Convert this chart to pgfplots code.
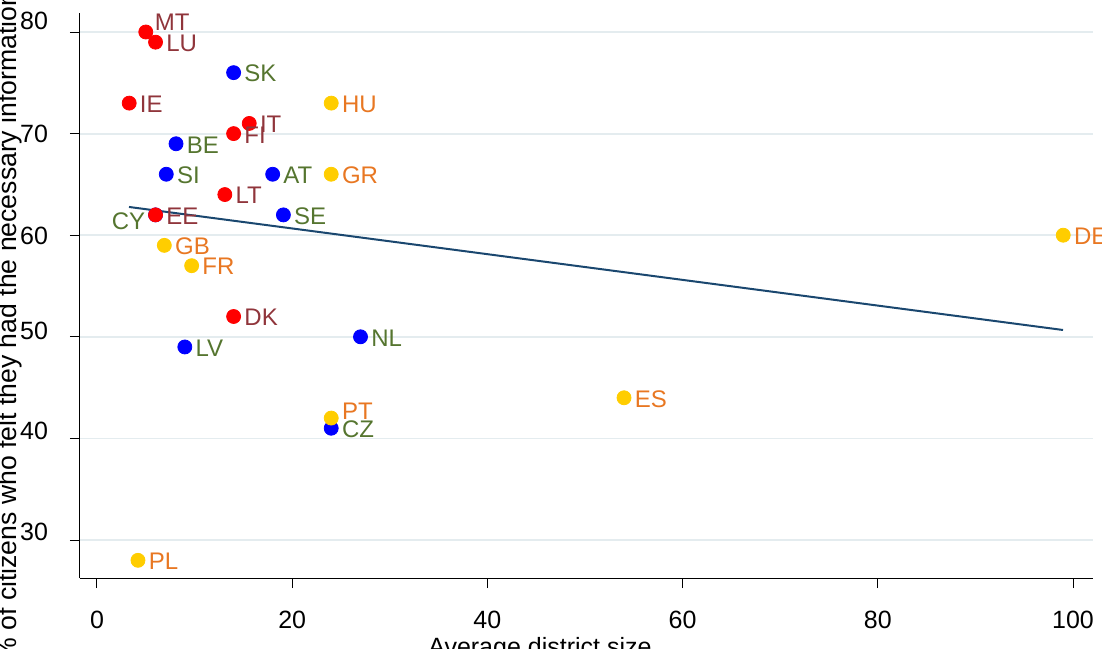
\documentclass[border=0pt]{standalone}
\usepackage{fontspec}
\setmainfont{Liberation Sans}
\usepackage{pgfplots}
\pgfplotsset{compat=1.18}
\usepackage{pgfplotstable}
\definecolor{maroonS}{RGB}{144,53,59}
\definecolor{forestS}{RGB}{85,117,47}
\definecolor{dkorangeS}{RGB}{232,119,34}
\definecolor{navyS}{RGB}{26,71,111}
\definecolor{gridS}{RGB}{228,236,239}
\definecolor{goldS}{RGB}{255,205,0}

\pgfplotstableread{
x y lab dx dy
5.0 80 MT 4.3 5.0
6.0 79 LU 5.2 -0.5
3.3 73 IE 5.2 -0.5
15.6 71 IT 5.2 -0.5
14.0 70 FI 5.2 -1.0
13.1 64 LT 5.2 -0.5
6.0 62 EE 5.2 -0.5
14.0 52 DK 5.2 -0.5
}\redtab

\pgfplotstableread{
x y lab dx dy
14.0 76 SK 5.2 -0.5
8.1 69 BE 5.2 -0.5
7.1 66 SI 5.2 -0.5
18.0 66 AT 5.2 -0.5
19.1 62 SE 5.2 -0.5
9.0 49 LV 5.2 -0.5
27.0 50 NL 5.2 -0.5
24.0 41 CZ 5.2 -0.5
}\bluetab

\pgfplotstableread{
x y lab dx dy
6.0 62 CY -5.0 -3.0
}\cytab

\pgfplotstableread{
x y lab dx dy
24.0 73 HU 5.2 -0.5
24.0 66 GR 5.2 -0.5
6.9 59 GB 5.2 -0.5
9.7 57 FR 5.2 -0.5
99.0 60 DE 5.2 -0.5
54.0 44 ES 5.2 -0.5
24.0 42 PT 5.2 3.5
4.2 28 PL 5.2 -0.5
}\yellowtab

\pgfplotsset{
  lblplot/.style={
    only marks, mark=*, mark size=3.5pt,
    mark options={draw=#1, fill=#1},
    nodes near coords,
    point meta=explicit symbolic,
    visualization depends on={\thisrow{dx}\as\mydx},
    visualization depends on={\thisrow{dy}\as\mydy},
  }
}

\begin{document}
\begin{tikzpicture}
\useasboundingbox (-40pt,-35pt) rectangle (511pt,289pt);
\clip (-40pt,-35pt) rectangle (511pt,289pt);
\begin{axis}[
  at={(0,0)}, anchor=south west,
  scale only axis, width=506.5pt, height=282.5pt,
  xmin=-1.74, xmax=102.05, ymin=26.26, ymax=81.87,
  axis x line*=bottom, axis y line*=left,
  axis line style={black, line width=0.5pt, -},
  tick align=outside, major tick length=5pt,
  tick style={black, line width=0.5pt},
  xtick={0,20,40,60,80,100},
  xticklabels={0,20,40,60,80,100},
  ytick={30,40,50,60,70,80},
  yticklabels={\raisebox{4.2pt}{30},\raisebox{3.7pt}{40},\raisebox{3pt}{50},60,70,\raisebox{5.7pt}{80}},
  ticklabel style={font=\fontsize{12.5}{14}\selectfont},
  yticklabel style={anchor=base east, xshift=-7.5pt, yshift=-4.4pt},
  xticklabel style={anchor=north, yshift=-8pt},
  ymajorgrids, grid style={gridS, line width=0.9pt},
  clip=false,
  xlabel={Average district size},
  ylabel={\% of citizens who felt they had the necessary information},
  xlabel style={at={(axis description cs:0.454,-0.138)}, anchor=base, font=\fontsize{12.5}{15}\selectfont},
  ylabel style={at={(axis description cs:-0.0622,0.445)}, anchor=base, font=\fontsize{13.3}{16}\selectfont},
]
\addplot[navyS, line width=1pt] coordinates {(3.28,62.78) (98.98,50.67)};
\addplot[lblplot=blue, every node near coord/.append style={font=\fontsize{12}{14}\selectfont, inner sep=0pt, anchor=west, xshift=\mydx pt, yshift=\mydy pt, text=forestS}] table[x=x, y=y, meta=lab] {\bluetab};
\addplot[lblplot=blue, every node near coord/.append style={font=\fontsize{12}{14}\selectfont, inner sep=0pt, anchor=east, xshift=\mydx pt, yshift=\mydy pt, text=forestS}] table[x=x, y=y, meta=lab] {\cytab};
\addplot[lblplot=red, every node near coord/.append style={font=\fontsize{12}{14}\selectfont, inner sep=0pt, anchor=west, xshift=\mydx pt, yshift=\mydy pt, text=maroonS}] table[x=x, y=y, meta=lab] {\redtab};
\addplot[lblplot=goldS, every node near coord/.append style={font=\fontsize{12}{14}\selectfont, inner sep=0pt, anchor=west, xshift=\mydx pt, yshift=\mydy pt, text=dkorangeS}] table[x=x, y=y, meta=lab] {\yellowtab};
\end{axis}
\end{tikzpicture}
\end{document}
